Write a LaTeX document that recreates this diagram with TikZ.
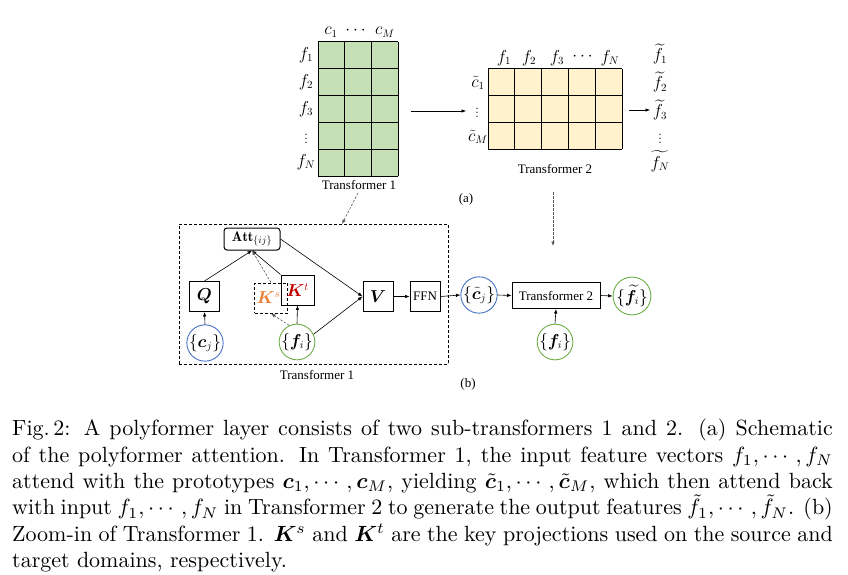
\documentclass[tikz,border=0pt]{standalone}
\usepackage{amsmath,bm}
\usepackage{fontspec}
\newfontfamily\lab{Liberation Serif}
\usetikzlibrary{arrows.meta}
\definecolor{gfill}{HTML}{C5E0B4}
\definecolor{yfill}{HTML}{FFF2CC}
\definecolor{cblue}{HTML}{4472C4}
\definecolor{cgreen}{HTML}{70AD47}
\definecolor{corange}{HTML}{ED7D31}
\definecolor{cred}{HTML}{C00000}
\begin{document}
\begin{tikzpicture}[x=1pt,y=-1pt,
  arr/.style={-{Latex[length=4.5pt,width=3.5pt]}, line width=0.6pt},
  darr/.style={arr, dashed, dash pattern=on 2.5pt off 1.5pt, gray!70!black},
  gridline/.style={line width=1pt},
  blk/.style={draw, line width=1pt, minimum width=30pt, minimum height=30pt, inner sep=0},
  circ/.style={circle, draw, line width=0.9pt, minimum size=34pt, inner sep=0},
  lbl/.style={font=\lab\fontsize{13}{15}\selectfont, inner sep=0},
  mth/.style={font=\fontsize{16}{18}\selectfont, inner sep=0},
  bmth/.style={font=\fontsize{16}{18}\selectfont, inner sep=0}]
\useasboundingbox (0,0) rectangle (848,575);
\fill[white] (0,0) rectangle (848,575);

% ---------- (a) grid 1
\fill[gfill] (318,42) rectangle (398,176);
\foreach \i in {0,...,3} \draw[gridline] ({318+\i*80/3},42) -- ({318+\i*80/3},176);
\foreach \j in {0,...,5} \draw[gridline] (318,{42+\j*26.8}) -- (398,{42+\j*26.8});
\node[mth] (c1) at (331,32) {$c_1$};
\node[mth] (cd) at (357,31) {$\cdots$};
\node[mth] (cM) at (385,32) {$c_M$};
\node[mth] (f1) at (306,55) {$f_1$};
\node[mth] (f2) at (306,82) {$f_2$};
\node[mth] (f3) at (306,109) {$f_3$};
\node[mth] (fd) at (306,136) {$\vdots$};
\node[mth] (fN) at (306,162) {$f_N$};
\node[lbl] (t1a) at (359,185) {Transformer 1};

% ---------- (a) grid 2
\fill[yfill] (488,69) rectangle (622,149);
\foreach \i in {0,...,5} \draw[gridline] ({488+\i*26.8},69) -- ({488+\i*26.8},149);
\foreach \j in {0,...,3} \draw[gridline] (488,{69+\j*80/3}) -- (622,{69+\j*80/3});
\node[mth] (g1) at (504,58) {$f_1$};
\node[mth] (g2) at (529,58) {$f_2$};
\node[mth] (g3) at (557,58) {$f_3$};
\node[mth] (gd) at (584,57) {$\cdots$};
\node[mth] (gN) at (610,58) {$f_N$};
\node[mth] (ct1) at (478,83) {$\tilde{c}_1$};
\node[mth] (ctd) at (477,110) {$\vdots$};
\node[mth] (ctM) at (478,137) {$\tilde{c}_M$};
\node[lbl] (t2a) at (555,169) {Transformer 2};
\node[mth] (h1) at (660,54) {$\widetilde{f}_1$};
\node[mth] (h2) at (660,82) {$\widetilde{f}_2$};
\node[mth] (h3) at (660,110) {$\widetilde{f}_3$};
\node[mth] (hd) at (660,136) {$\vdots$};
\node[mth] (hN) at (660,161) {$\widetilde{f_N}$};
\node[lbl] (la) at (466,199) {(a)};

\coordinate (p1) at (411,111);
\coordinate (p2) at (466,111);
\draw[arr] (p1) -- (p2);
\coordinate (p3) at (629,110);
\coordinate (p4) at (650,110);
\draw[arr] (p3) -- (p4);

% ---------- (b)
\node[draw, dashed, dash pattern=on 3pt off 2pt, line width=0.8pt, minimum width=269pt, minimum height=140pt, anchor=north west, inner sep=0] (zoom) at (179,224) {};
\coordinate (s1) at (358,193);
\draw[darr] (s1) -- (zoom.north -| 342,0);
\coordinate (s2) at (553,192);
\coordinate (s3) at (553,246);
\draw[darr] (s2) -- (s3);

\node[draw, rounded corners=3pt, line width=1pt, minimum width=56pt, minimum height=22pt, inner sep=0, font=\fontsize{14}{16}\selectfont] (att) at (252,239) {$\mathbf{Att}_{\{ij\}}$};
\node[blk, bmth] (Q) at (204.5,296.5) {$\bm{Q}$};
\node[blk, dashed, dash pattern=on 3pt off 2pt, minimum width=33pt, bmth, text=corange] (Ks) at (271,298) {\hspace*{-5pt}$\bm{K}^s$};
\node[blk, minimum width=33pt, bmth, text=cred] (Kt) at (297.5,290) {$\bm{K}^t$};
\node[blk, bmth] (V) at (378,296.5) {$\bm{V}$};
\node[blk, lbl, draw, line width=1pt, minimum width=30pt, minimum height=30pt] (ffn) at (425,296.5) {FFN};
\node[circ, draw=cblue, bmth] (cj) at (205,343) {$\{\bm{c}_j\}$};
\node[circ, draw=cgreen, bmth] (fi) at (297,342) {$\{\bm{f}_i\}$};
\node[lbl] (t1b) at (317,375) {Transformer 1};

\node[circ, draw=cblue, bmth] (ctj) at (479,295) {$\{\tilde{\bm{c}}_j\}$};
\node[draw, line width=1pt, minimum width=88pt, minimum height=26pt, inner sep=0, lbl] (T2) at (556,295.5) {Transformer 2};
\node[circ, draw=cgreen, bmth] (ftj) at (632,296) {$\{\widetilde{\bm{f}}_i\}$};
\node[circ, draw=cgreen, bmth] (fi2) at (555,342) {$\{\bm{f}_i\}$};
\node[lbl] (lb) at (468,384) {(b)};

\draw[arr] (Q.north) -- (att.south);
\draw[arr] (Kt.north west) -- (att.south);
\draw[darr] (Ks.north) -- (att.south);
\draw[arr] (fi.north) -- (Kt.south);
\draw[darr] (fi.115) -- (Ks.south);
\draw[arr] (cj.north) -- (Q.south);
\draw[arr] (att.east) -- (V.west);
\draw[arr] (fi.25) -- (V.west);
\draw[arr] (V.east) -- (ffn.west);
\draw[arr] (ffn.east) -- (ctj.west);
\draw[arr] (ctj.east) -- (T2.west);
\draw[arr] (T2.east) -- (ftj.west);
\draw[arr] (fi2.north) -- (T2.south);

% ---------- caption
\node[anchor=north west, inner sep=0] (cap) at (12,419) {\scalebox{2.2}{\parbox[t]{373pt}{\fontsize{10}{12}\selectfont
\makebox[373pt][s]{Fig.\,2: A polyformer layer consists of two sub-transformers 1 and 2. (a) Schematic}\\
\makebox[373pt][s]{of the polyformer attention. In Transformer 1, the input feature vectors $f_1,\cdots,f_N$}\\
\makebox[373pt][s]{attend with the prototypes $\bm{c}_1,\cdots,\bm{c}_M$, yielding $\tilde{\bm{c}}_1,\cdots,\tilde{\bm{c}}_M$, which then attend back}\\
\makebox[373pt][s]{with input $f_1,\cdots,f_N$ in Transformer 2 to generate the output features $\tilde{f}_1,\cdots,\tilde{f}_N$. (b)}\\
\makebox[373pt][s]{Zoom-in of Transformer 1. $\bm{K}^s$ and $\bm{K}^t$ are the key projections used on the source and}\\
target domains, respectively.}}};
\end{tikzpicture}
\end{document}
